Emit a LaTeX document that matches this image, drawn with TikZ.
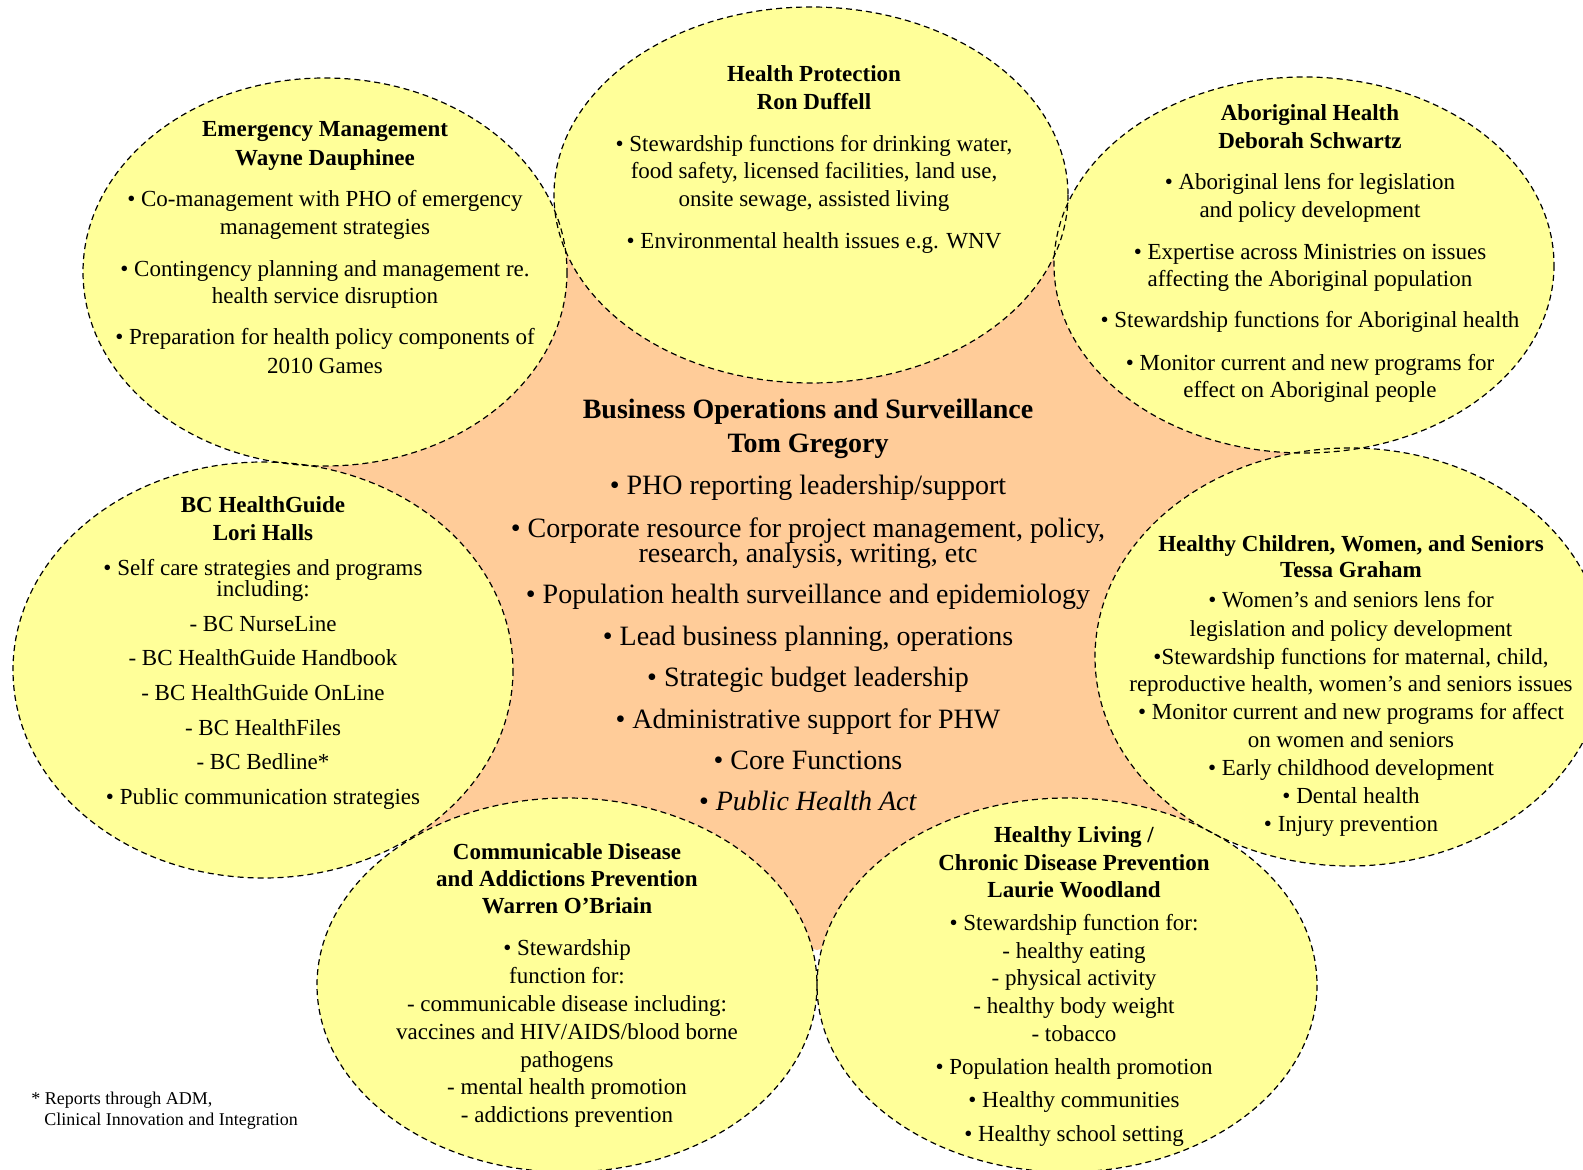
\documentclass[tikz,border=0pt]{standalone}
\usepackage{fontspec}
\setmainfont{Liberation Serif}
\definecolor{ylw}{RGB}{255,255,153}
\definecolor{org}{RGB}{255,204,153}
\begin{document}
\begin{tikzpicture}[x=0.5pt,y=-0.5pt,
  bfill/.style={fill=ylw},
  bline/.style={draw=black, line width=0.6pt, dash pattern=on 3pt off 2pt},
  t/.style={anchor=base, inner sep=0pt, yshift=-1pt, font=\fontsize{11.5}{14}\selectfont},
  c/.style={anchor=base, inner sep=0pt, yshift=-1pt, font=\fontsize{14}{17}\selectfont},
  fn/.style={anchor=base west, inner sep=0pt, yshift=-1pt, font=\fontsize{9}{11}\selectfont}]
\useasboundingbox (0,0) rectangle (1583,1170);
% central region
\fill[org] (564,250) -- (1055,250) -- (1300,452) -- (1225,840) -- (817,950) -- (408,840) -- (310,465) -- cycle;
% bubbles: fills, then outlines
\foreach \cx/\cy/\rx/\ry in {325/272/242/194, 811/195/257/188, 1304/265/250/188, 263/670/250/208, 1350/657/255/209, 567/985/250/187, 1067/985/250/187}
  \fill[bfill] (\cx,\cy) ellipse [x radius=\rx, y radius=\ry];
\foreach \cx/\cy/\rx/\ry in {325/272/242/194, 811/195/257/188, 1304/265/250/188, 263/670/250/208, 1350/657/255/209, 567/985/250/187, 1067/985/250/187}
  \draw[bline] (\cx,\cy) ellipse [x radius=\rx, y radius=\ry];
% Emergency Management
\foreach \yy/\tx [count=\k] in {135/\textbf{Emergency Management}, 163.5/\textbf{Wayne Dauphinee},
  205/{• Co-management with PHO of emergency}, 233/{management strategies},
  274.5/{• Contingency planning and management re.}, 302/{health service disruption},
  343/{• Preparation for health policy components of}, 371.5/{2010 Games}}
  \node[t] (em\k) at (325,\yy) {\tx};
% Health Protection
\foreach \yy/\tx [count=\k] in {80/\textbf{Health Protection}, 108/\textbf{Ron Duffell},
  149.5/{• Stewardship functions for drinking water,}, 176.5/{food safety, licensed facilities, land use,},
  205/{onsite sewage, assisted living}, 246.5/{• Environmental health issues e.g. WNV}}
  \node[t] (hp\k) at (814,\yy) {\tx};
% Aboriginal Health
\foreach \yy/\tx [count=\k] in {119/\textbf{Aboriginal Health}, 146.5/\textbf{Deborah Schwartz},
  188/{• Aboriginal lens for legislation}, 216/{and policy development},
  257.5/{• Expertise across Ministries on issues}, 284.5/{affecting the Aboriginal population},
  326/{• Stewardship functions for Aboriginal health},
  368.5/{• Monitor current and new programs for}, 395.5/{effect on Aboriginal people}}
  \node[t] (ab\k) at (1310,\yy) {\tx};
% BC HealthGuide
\foreach \yy/\tx [count=\k] in {510/\textbf{BC HealthGuide}, 538/\textbf{Lori Halls},
  573.5/{• Self care strategies and programs}, 594.5/{including:},
  629/{- BC NurseLine}, 663/{- BC HealthGuide Handbook}, 698.5/{- BC HealthGuide OnLine},
  733/{- BC HealthFiles}, 767/{- BC Bedline*}, 802.5/{• Public communication strategies}}
  \node[t] (bc\k) at (263,\yy) {\tx};
% Healthy Children, Women, and Seniors
\foreach \yy/\tx [count=\k] in {549/\textbf{Healthy Children, Women, and Seniors}, 575.5/\textbf{Tessa Graham},
  605.5/{• Women’s and seniors lens for}, 634/{legislation and policy development},
  662/{•Stewardship functions for maternal, child,}, 689.5/{reproductive health, women’s and seniors issues},
  717.5/{• Monitor current and new programs for affect}, 745/{on women and seniors},
  773/{• Early childhood development}, 801.5/{• Dental health}, 829/{• Injury prevention}}
  \node[t] (hc\k) at (1351,\yy) {\tx};
% Communicable Disease
\foreach \yy/\tx [count=\k] in {857/\textbf{Communicable Disease}, 884.5/\textbf{and Addictions Prevention},
  911.5/\textbf{Warren O’Briain}, 953/{• Stewardship}, 981/{function for:},
  1009.5/{- communicable disease including:}, 1037/{vaccines and HIV/AIDS/blood borne},
  1065/{pathogens}, 1092.5/{- mental health promotion}, 1120.5/{- addictions prevention}}
  \node[t] (cd\k) at (567,\yy) {\tx};
% Healthy Living
\foreach \yy/\tx [count=\k] in {840/\textbf{Healthy Living /}, 868/\textbf{Chronic Disease Prevention},
  895.5/\textbf{Laurie Woodland}, 928/{• Stewardship function for:}, 956/{- healthy eating},
  983/{- physical activity}, 1011.5/{- healthy body weight}, 1039/{- tobacco},
  1072/{• Population health promotion}, 1105.5/{• Healthy communities}, 1139/{• Healthy school setting}}
  \node[t] (hl\k) at (1074,\yy) {\tx};
% Business Operations
\foreach \yy/\tx [count=\k] in {417/\textbf{Business Operations and Surveillance}, 450/\textbf{Tom Gregory},
  492.5/{• PHO reporting leadership/support},
  535/{• Corporate resource for project management, policy,}, 560/{research, analysis, writing, etc},
  601.5/{• Population health surveillance and epidemiology},
  643/{• Lead business planning, operations}, 684.5/{• Strategic budget leadership},
  726/{• Administrative support for PHW}, 767/{• Core Functions}, 808.5/{• \textit{Public Health Act}}}
  \node[c] (bo\k) at (808,\yy) {\tx};
% footnote
\node[fn] (fn1) at (31,1102) {* Reports through ADM,};
\node[fn] (fn2) at (44,1123.5) {Clinical Innovation and Integration};
\end{tikzpicture}
\end{document}
